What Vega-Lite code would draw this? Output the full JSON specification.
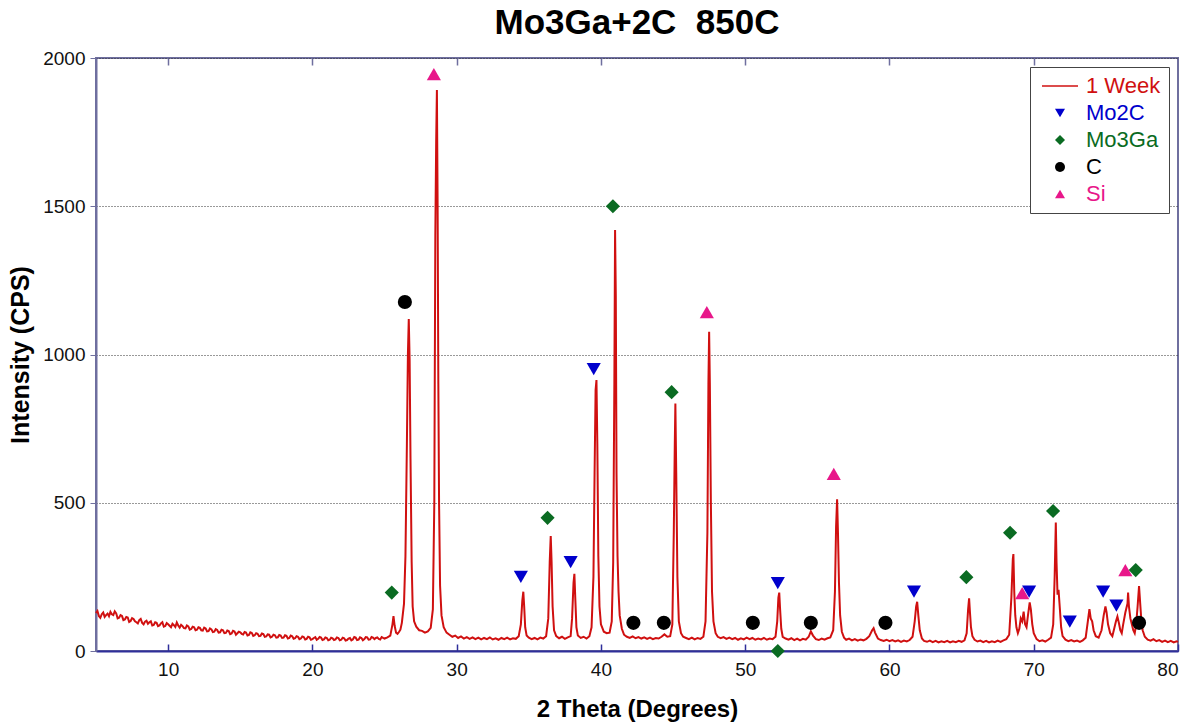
{
"$schema": "https://vega.github.io/schema/vega-lite/v6.json",
"width": 1082, "height": 593,
"autosize": "none",
"padding": {"left": 96, "top": 58, "right": 19, "bottom": 76},
"background": "white",
"title": {"text": "Mo3Ga+2C\u00a0\u00a0850C", "font": "Liberation Sans", "fontSize": 35, "fontWeight": "bold", "color": "#000", "anchor": "middle", "offset": 8},
"config": {"view": {"stroke": "#6f6f9f", "strokeWidth": 2}},
"datasets": {
"xrd": [
{"t":5.0,"i":128},{"t":5.1,"i":135},{"t":5.2,"i":118},{"t":5.3,"i":112},{"t":5.4,"i":124},{"t":5.5,"i":130},{"t":5.6,"i":115},{"t":5.7,"i":121},{"t":5.8,"i":126},{"t":5.9,"i":117},
{"t":6.0,"i":132},{"t":6.1,"i":124},{"t":6.2,"i":121},{"t":6.3,"i":134},{"t":6.4,"i":127},{"t":6.5,"i":110},{"t":6.6,"i":112},{"t":6.7,"i":121},{"t":6.8,"i":118},{"t":6.9,"i":104},
{"t":7.0,"i":106},{"t":7.1,"i":115},{"t":7.2,"i":113},{"t":7.3,"i":98},{"t":7.4,"i":101},{"t":7.5,"i":111},{"t":7.6,"i":108},{"t":7.7,"i":100},{"t":7.8,"i":97},{"t":7.9,"i":93},
{"t":8.0,"i":104},{"t":8.1,"i":108},{"t":8.2,"i":95},{"t":8.3,"i":90},{"t":8.4,"i":99},{"t":8.5,"i":102},{"t":8.6,"i":92},{"t":8.7,"i":97},{"t":8.8,"i":100},{"t":8.9,"i":86},
{"t":9.0,"i":88},{"t":9.1,"i":97},{"t":9.2,"i":95},{"t":9.3,"i":84},{"t":9.4,"i":86},{"t":9.5,"i":93},{"t":9.6,"i":97},{"t":9.7,"i":82},{"t":9.8,"i":84},{"t":9.9,"i":94},
{"t":10.0,"i":90},{"t":10.1,"i":85},{"t":10.2,"i":80},{"t":10.3,"i":92},{"t":10.4,"i":87},{"t":10.5,"i":81},{"t":10.6,"i":96},{"t":10.7,"i":86},{"t":10.8,"i":79},{"t":10.9,"i":88},
{"t":11.0,"i":84},{"t":11.1,"i":77},{"t":11.2,"i":76},{"t":11.3,"i":86},{"t":11.4,"i":83},{"t":11.5,"i":72},{"t":11.6,"i":74},{"t":11.7,"i":82},{"t":11.8,"i":80},{"t":11.9,"i":70},
{"t":12.0,"i":72},{"t":12.1,"i":80},{"t":12.2,"i":78},{"t":12.3,"i":70},{"t":12.4,"i":69},{"t":12.5,"i":79},{"t":12.6,"i":76},{"t":12.7,"i":66},{"t":12.8,"i":67},{"t":12.9,"i":76},
{"t":13.0,"i":73},{"t":13.1,"i":64},{"t":13.2,"i":65},{"t":13.3,"i":74},{"t":13.4,"i":71},{"t":13.5,"i":62},{"t":13.6,"i":63},{"t":13.7,"i":72},{"t":13.8,"i":70},{"t":13.9,"i":60},
{"t":14.0,"i":61},{"t":14.1,"i":69},{"t":14.2,"i":67},{"t":14.3,"i":57},{"t":14.4,"i":59},{"t":14.5,"i":68},{"t":14.6,"i":66},{"t":14.7,"i":55},{"t":14.8,"i":60},{"t":14.9,"i":65},
{"t":15.0,"i":63},{"t":15.1,"i":58},{"t":15.2,"i":56},{"t":15.3,"i":64},{"t":15.4,"i":62},{"t":15.5,"i":52},{"t":15.6,"i":54},{"t":15.7,"i":63},{"t":15.8,"i":61},{"t":15.9,"i":51},
{"t":16.0,"i":53},{"t":16.1,"i":60},{"t":16.2,"i":58},{"t":16.3,"i":50},{"t":16.4,"i":51},{"t":16.5,"i":59},{"t":16.6,"i":57},{"t":16.7,"i":48},{"t":16.8,"i":49},{"t":16.9,"i":56},
{"t":17.0,"i":55},{"t":17.1,"i":46},{"t":17.2,"i":48},{"t":17.3,"i":55},{"t":17.4,"i":53},{"t":17.5,"i":45},{"t":17.6,"i":46},{"t":17.7,"i":54},{"t":17.8,"i":52},{"t":17.9,"i":44},
{"t":18.0,"i":45},{"t":18.1,"i":53},{"t":18.2,"i":51},{"t":18.3,"i":42},{"t":18.4,"i":44},{"t":18.5,"i":52},{"t":18.6,"i":50},{"t":18.7,"i":41},{"t":18.8,"i":43},{"t":18.9,"i":50},
{"t":19.0,"i":48},{"t":19.1,"i":40},{"t":19.2,"i":42},{"t":19.3,"i":49},{"t":19.4,"i":47},{"t":19.5,"i":39},{"t":19.6,"i":41},{"t":19.7,"i":48},{"t":19.8,"i":46},{"t":19.9,"i":38},
{"t":20.0,"i":40},{"t":20.1,"i":44},{"t":20.2,"i":47},{"t":20.3,"i":38},{"t":20.4,"i":41},{"t":20.5,"i":47},{"t":20.6,"i":45},{"t":20.7,"i":37},{"t":20.8,"i":39},{"t":20.9,"i":46},
{"t":21.0,"i":44},{"t":21.1,"i":36},{"t":21.2,"i":38},{"t":21.3,"i":45},{"t":21.4,"i":43},{"t":21.5,"i":37},{"t":21.6,"i":39},{"t":21.7,"i":46},{"t":21.8,"i":44},{"t":21.9,"i":36},
{"t":22.0,"i":38},{"t":22.1,"i":45},{"t":22.2,"i":43},{"t":22.3,"i":35},{"t":22.4,"i":37},{"t":22.5,"i":42},{"t":22.6,"i":44},{"t":22.7,"i":36},{"t":22.8,"i":39},{"t":22.9,"i":47},
{"t":23.0,"i":45},{"t":23.1,"i":37},{"t":23.2,"i":38},{"t":23.3,"i":46},{"t":23.4,"i":44},{"t":23.5,"i":36},{"t":23.6,"i":40},{"t":23.7,"i":47},{"t":23.8,"i":46},{"t":23.9,"i":38},
{"t":24.0,"i":39},{"t":24.1,"i":47},{"t":24.2,"i":45},{"t":24.3,"i":40},{"t":24.4,"i":44},{"t":24.5,"i":46},{"t":24.6,"i":41},{"t":24.7,"i":39},{"t":24.8,"i":47},{"t":24.9,"i":44},
{"t":25.0,"i":42},{"t":25.2,"i":46},{"t":25.4,"i":52},{"t":25.55,"i":90},{"t":25.62,"i":118},{"t":25.7,"i":85},{"t":25.8,"i":62},{"t":25.9,"i":58},{"t":26.0,"i":64},{"t":26.1,"i":72},
{"t":26.2,"i":95},{"t":26.35,"i":160},{"t":26.45,"i":320},{"t":26.55,"i":700},{"t":26.62,"i":1000},{"t":26.68,"i":1120},{"t":26.74,"i":980},{"t":26.8,"i":650},{"t":26.88,"i":300},{"t":26.95,"i":150},
{"t":27.05,"i":100},{"t":27.2,"i":82},{"t":27.4,"i":70},{"t":27.6,"i":68},{"t":27.8,"i":62},{"t":28.0,"i":66},{"t":28.2,"i":78},{"t":28.35,"i":140},{"t":28.45,"i":500},{"t":28.52,"i":1400},
{"t":28.58,"i":1720},{"t":28.63,"i":1892},{"t":28.68,"i":1500},{"t":28.73,"i":900},{"t":28.78,"i":500},{"t":28.85,"i":220},{"t":28.95,"i":120},{"t":29.1,"i":80},{"t":29.3,"i":62},{"t":29.5,"i":55},
{"t":29.7,"i":48},{"t":29.9,"i":52},{"t":30.1,"i":44},{"t":30.3,"i":49},{"t":30.5,"i":42},{"t":30.7,"i":47},{"t":30.9,"i":41},{"t":31.1,"i":46},{"t":31.3,"i":40},{"t":31.5,"i":45},
{"t":31.7,"i":39},{"t":31.9,"i":44},{"t":32.1,"i":40},{"t":32.3,"i":46},{"t":32.5,"i":39},{"t":32.7,"i":43},{"t":32.9,"i":38},{"t":33.1,"i":44},{"t":33.3,"i":40},{"t":33.5,"i":45},
{"t":33.7,"i":39},{"t":33.9,"i":43},{"t":34.1,"i":41},{"t":34.3,"i":50},{"t":34.45,"i":90},{"t":34.55,"i":170},{"t":34.62,"i":200},{"t":34.68,"i":150},{"t":34.75,"i":80},{"t":34.85,"i":52},
{"t":35.0,"i":45},{"t":35.2,"i":40},{"t":35.4,"i":44},{"t":35.6,"i":39},{"t":35.8,"i":45},{"t":36.0,"i":42},{"t":36.2,"i":50},{"t":36.35,"i":110},{"t":36.45,"i":300},{"t":36.52,"i":388},
{"t":36.58,"i":300},{"t":36.65,"i":150},{"t":36.75,"i":70},{"t":36.9,"i":50},{"t":37.1,"i":43},{"t":37.3,"i":48},{"t":37.5,"i":41},{"t":37.7,"i":46},{"t":37.9,"i":50},{"t":38.0,"i":110},
{"t":38.1,"i":230},{"t":38.16,"i":260},{"t":38.22,"i":180},{"t":38.3,"i":80},{"t":38.4,"i":52},{"t":38.6,"i":44},{"t":38.8,"i":48},{"t":39.0,"i":42},{"t":39.2,"i":50},{"t":39.35,"i":80},
{"t":39.48,"i":250},{"t":39.56,"i":600},{"t":39.63,"i":880},{"t":39.69,"i":914},{"t":39.75,"i":700},{"t":39.82,"i":320},{"t":39.9,"i":150},{"t":40.0,"i":90},{"t":40.2,"i":65},{"t":40.4,"i":60},
{"t":40.6,"i":62},{"t":40.75,"i":100},{"t":40.85,"i":300},{"t":40.93,"i":900},{"t":40.98,"i":1420},{"t":41.03,"i":1200},{"t":41.08,"i":600},{"t":41.15,"i":320},{"t":41.22,"i":200},{"t":41.3,"i":120},
{"t":41.45,"i":75},{"t":41.6,"i":55},{"t":41.8,"i":48},{"t":42.0,"i":44},{"t":42.2,"i":49},{"t":42.4,"i":43},{"t":42.6,"i":47},{"t":42.8,"i":42},{"t":43.0,"i":46},{"t":43.2,"i":41},
{"t":43.4,"i":45},{"t":43.6,"i":40},{"t":43.8,"i":44},{"t":44.0,"i":42},{"t":44.2,"i":48},{"t":44.4,"i":56},{"t":44.6,"i":48},{"t":44.8,"i":50},{"t":44.95,"i":90},{"t":45.05,"i":400},
{"t":45.12,"i":700},{"t":45.16,"i":835},{"t":45.22,"i":600},{"t":45.3,"i":250},{"t":45.4,"i":100},{"t":45.55,"i":60},{"t":45.7,"i":48},{"t":45.9,"i":44},{"t":46.1,"i":40},{"t":46.3,"i":45},
{"t":46.5,"i":39},{"t":46.7,"i":44},{"t":46.9,"i":41},{"t":47.1,"i":48},{"t":47.25,"i":100},{"t":47.38,"i":400},{"t":47.45,"i":900},{"t":47.5,"i":1077},{"t":47.55,"i":900},{"t":47.62,"i":500},
{"t":47.7,"i":200},{"t":47.8,"i":100},{"t":47.95,"i":60},{"t":48.1,"i":48},{"t":48.3,"i":43},{"t":48.5,"i":47},{"t":48.7,"i":41},{"t":48.9,"i":45},{"t":49.1,"i":40},{"t":49.3,"i":44},
{"t":49.5,"i":38},{"t":49.7,"i":43},{"t":49.9,"i":39},{"t":50.1,"i":45},{"t":50.3,"i":40},{"t":50.5,"i":44},{"t":50.7,"i":38},{"t":50.9,"i":42},{"t":51.1,"i":39},{"t":51.3,"i":44},
{"t":51.5,"i":38},{"t":51.7,"i":42},{"t":51.9,"i":40},{"t":52.1,"i":48},{"t":52.22,"i":100},{"t":52.3,"i":180},{"t":52.36,"i":197},{"t":52.42,"i":140},{"t":52.5,"i":75},{"t":52.6,"i":48},
{"t":52.8,"i":42},{"t":53.0,"i":38},{"t":53.2,"i":43},{"t":53.4,"i":37},{"t":53.6,"i":42},{"t":53.8,"i":36},{"t":54.0,"i":41},{"t":54.2,"i":38},{"t":54.4,"i":48},{"t":54.55,"i":66},
{"t":54.7,"i":52},{"t":54.9,"i":40},{"t":55.1,"i":37},{"t":55.3,"i":42},{"t":55.5,"i":38},{"t":55.7,"i":43},{"t":55.9,"i":46},{"t":56.1,"i":70},{"t":56.22,"i":200},{"t":56.3,"i":420},
{"t":56.37,"i":512},{"t":56.43,"i":400},{"t":56.5,"i":230},{"t":56.58,"i":120},{"t":56.7,"i":65},{"t":56.85,"i":45},{"t":57.0,"i":38},{"t":57.2,"i":42},{"t":57.4,"i":36},{"t":57.6,"i":40},
{"t":57.8,"i":35},{"t":58.0,"i":39},{"t":58.2,"i":36},{"t":58.4,"i":41},{"t":58.6,"i":50},{"t":58.8,"i":70},{"t":58.9,"i":77},{"t":59.0,"i":62},{"t":59.2,"i":42},{"t":59.4,"i":37},
{"t":59.6,"i":34},{"t":59.8,"i":38},{"t":60.0,"i":33},{"t":60.2,"i":37},{"t":60.4,"i":32},{"t":60.6,"i":36},{"t":60.8,"i":31},{"t":61.0,"i":35},{"t":61.2,"i":32},{"t":61.4,"i":37},
{"t":61.6,"i":48},{"t":61.75,"i":100},{"t":61.85,"i":150},{"t":61.92,"i":166},{"t":62.0,"i":120},{"t":62.1,"i":70},{"t":62.25,"i":42},{"t":62.4,"i":34},{"t":62.6,"i":31},{"t":62.8,"i":35},
{"t":63.0,"i":30},{"t":63.2,"i":34},{"t":63.4,"i":29},{"t":63.6,"i":33},{"t":63.8,"i":30},{"t":64.0,"i":34},{"t":64.2,"i":29},{"t":64.4,"i":33},{"t":64.6,"i":30},{"t":64.8,"i":34},
{"t":65.0,"i":31},{"t":65.2,"i":36},{"t":65.35,"i":60},{"t":65.45,"i":140},{"t":65.52,"i":178},{"t":65.58,"i":130},{"t":65.65,"i":80},{"t":65.75,"i":50},{"t":65.9,"i":38},{"t":66.1,"i":32},
{"t":66.3,"i":35},{"t":66.5,"i":30},{"t":66.7,"i":34},{"t":66.9,"i":29},{"t":67.1,"i":33},{"t":67.3,"i":30},{"t":67.5,"i":35},{"t":67.7,"i":31},{"t":67.9,"i":36},{"t":68.1,"i":40},
{"t":68.3,"i":55},{"t":68.45,"i":180},{"t":68.55,"i":310},{"t":68.59,"i":327},{"t":68.65,"i":200},{"t":68.72,"i":120},{"t":68.8,"i":80},{"t":68.9,"i":60},{"t":69.0,"i":75},{"t":69.1,"i":110},
{"t":69.2,"i":100},{"t":69.3,"i":133},{"t":69.4,"i":90},{"t":69.5,"i":80},{"t":69.6,"i":120},{"t":69.72,"i":164},{"t":69.8,"i":140},{"t":69.9,"i":90},{"t":70.0,"i":60},{"t":70.2,"i":40},
{"t":70.4,"i":33},{"t":70.6,"i":36},{"t":70.8,"i":32},{"t":71.0,"i":38},{"t":71.2,"i":45},{"t":71.35,"i":90},{"t":71.45,"i":250},{"t":71.53,"i":433},{"t":71.58,"i":300},{"t":71.65,"i":190},
{"t":71.72,"i":206},{"t":71.8,"i":150},{"t":71.9,"i":80},{"t":72.0,"i":50},{"t":72.2,"i":38},{"t":72.4,"i":33},{"t":72.6,"i":37},{"t":72.8,"i":32},{"t":73.0,"i":35},{"t":73.2,"i":31},
{"t":73.4,"i":36},{"t":73.6,"i":45},{"t":73.75,"i":100},{"t":73.86,"i":141},{"t":73.95,"i":110},{"t":74.05,"i":100},{"t":74.15,"i":70},{"t":74.3,"i":50},{"t":74.5,"i":45},{"t":74.7,"i":70},
{"t":74.85,"i":120},{"t":74.97,"i":150},{"t":75.05,"i":130},{"t":75.15,"i":90},{"t":75.3,"i":60},{"t":75.45,"i":50},{"t":75.6,"i":80},{"t":75.7,"i":100},{"t":75.8,"i":116},{"t":75.9,"i":95},
{"t":76.0,"i":70},{"t":76.1,"i":60},{"t":76.2,"i":90},{"t":76.35,"i":130},{"t":76.5,"i":160},{"t":76.54,"i":197},{"t":76.6,"i":150},{"t":76.7,"i":110},{"t":76.8,"i":90},{"t":76.9,"i":70},
{"t":77.0,"i":60},{"t":77.1,"i":90},{"t":77.2,"i":150},{"t":77.3,"i":219},{"t":77.38,"i":160},{"t":77.45,"i":110},{"t":77.55,"i":70},{"t":77.7,"i":48},{"t":77.9,"i":38},{"t":78.1,"i":35},
{"t":78.3,"i":40},{"t":78.5,"i":33},{"t":78.7,"i":37},{"t":78.9,"i":31},{"t":79.1,"i":35},{"t":79.3,"i":30},{"t":79.5,"i":34},{"t":79.7,"i":29},{"t":79.9,"i":33},{"t":80.0,"i":31}
],
"marks": [
{"t":34.45,"i":250,"phase":"Mo2C"},{"t":37.9,"i":300,"phase":"Mo2C"},{"t":39.5,"i":951,"phase":"Mo2C"},{"t":52.26,"i":229,"phase":"Mo2C"},{"t":61.7,"i":200,"phase":"Mo2C"},{"t":69.68,"i":200,"phase":"Mo2C"},{"t":72.5,"i":99,"phase":"Mo2C"},{"t":74.81,"i":200,"phase":"Mo2C"},{"t":75.73,"i":153,"phase":"Mo2C"},
{"t":25.5,"i":197,"phase":"Mo3Ga"},{"t":36.3,"i":449,"phase":"Mo3Ga"},{"t":40.83,"i":1500,"phase":"Mo3Ga"},{"t":44.9,"i":873,"phase":"Mo3Ga"},{"t":52.26,"i":0,"phase":"Mo3Ga"},{"t":65.33,"i":249,"phase":"Mo3Ga"},{"t":68.36,"i":399,"phase":"Mo3Ga"},{"t":71.34,"i":472,"phase":"Mo3Ga"},{"t":77.07,"i":273,"phase":"Mo3Ga"},
{"t":26.41,"i":1177,"phase":"C"},{"t":42.25,"i":95,"phase":"C"},{"t":44.36,"i":95,"phase":"C"},{"t":50.53,"i":95,"phase":"C"},{"t":54.55,"i":95,"phase":"C"},{"t":59.72,"i":95,"phase":"C"},{"t":77.3,"i":95,"phase":"C"},
{"t":28.42,"i":1946,"phase":"Si"},{"t":47.34,"i":1143,"phase":"Si"},{"t":56.14,"i":597,"phase":"Si"},{"t":69.2,"i":195,"phase":"Si"},{"t":76.35,"i":273,"phase":"Si"}
]
},
"layer": [
{
"data": {"name": "xrd"},
"mark": {"type": "line", "color": "#d01010", "strokeWidth": 2},
"encoding": {
"x": {"field": "t", "type": "quantitative", "scale": {"domain": [5, 80], "nice": false, "zero": false},
"axis": {"orient": "bottom", "title": "2 Theta (Degrees)", "values": [10,20,30,40,50,60,70,80], "grid": false,
"domainColor": "#2f2f9a", "domainWidth": 2, "tickColor": "#2f2f9a", "tickSize": -7, "tickWidth": 1.5,
"labelFont": "Liberation Sans", "labelFontSize": 19, "labelColor": "#111", "labelPadding": 16,
"titleFont": "Liberation Sans", "titleFontSize": 24, "titleFontWeight": "bold", "titleColor": "#000", "titlePadding": 18}},
"y": {"field": "i", "type": "quantitative", "scale": {"domain": [0, 2000], "nice": false},
"axis": {"title": "Intensity (CPS)", "values": [0,500,1000,1500,2000], "format": "d", "grid": true, "gridColor": "#333", "gridDash": [1,2], "gridWidth": 1,
"domainColor": "#6f6f9f", "domainWidth": 2, "tickColor": "#6f6f9f", "tickSize": 6, "tickWidth": 1,
"labelFont": "Liberation Sans", "labelFontSize": 19, "labelColor": "#111", "labelPadding": 5,
"titleFont": "Liberation Sans", "titleFontSize": 25, "titleFontWeight": "bold", "titleColor": "#000", "titlePadding": 9}}
}
},
{
"data": {"name": "marks"},
"mark": {"type": "point", "filled": true, "opacity": 1, "size": 200},
"encoding": {
"x": {"field": "t", "type": "quantitative",
"axis": {"orient": "top", "title": null, "labels": false, "values": [10,20,30,40,50,60,70], "grid": false, "domain": false,
"tickColor": "#6f6f9f", "tickSize": -7, "tickWidth": 1.5}},
"y": {"field": "i", "type": "quantitative"},
"color": {"field": "phase", "type": "nominal",
"scale": {"domain": ["1 Week","Mo2C","Mo3Ga","C","Si"], "range": ["#d01010","#0000cc","#0a6b22","#000000","#e8178a"]},
"legend": {"title": null, "orient": "top-right", "offset": 9, "padding": 8, "strokeColor": "#444", "fillColor": "white",
"labelFont": "Liberation Sans", "labelFontSize": 22, "symbolSize": 100, "symbolOffset": 11, "labelOffset": 15, "rowPadding": 5,
"labelColor": {"expr": "datum.label == '1 Week' ? '#d01010' : datum.label == 'Mo2C' ? '#0000cc' : datum.label == 'Mo3Ga' ? '#0a6b22' : datum.label == 'Si' ? '#e8178a' : '#000000'"}}},
"shape": {"field": "phase", "type": "nominal",
"scale": {"domain": ["1 Week","Mo2C","Mo3Ga","C","Si"], "range": ["M-3.6,-0.16H3.6V0.16H-3.6Z","triangle-down","diamond","circle","triangle-up"]}}
}
}
],
"resolve": {"axis": {"x": "independent"}}
}
